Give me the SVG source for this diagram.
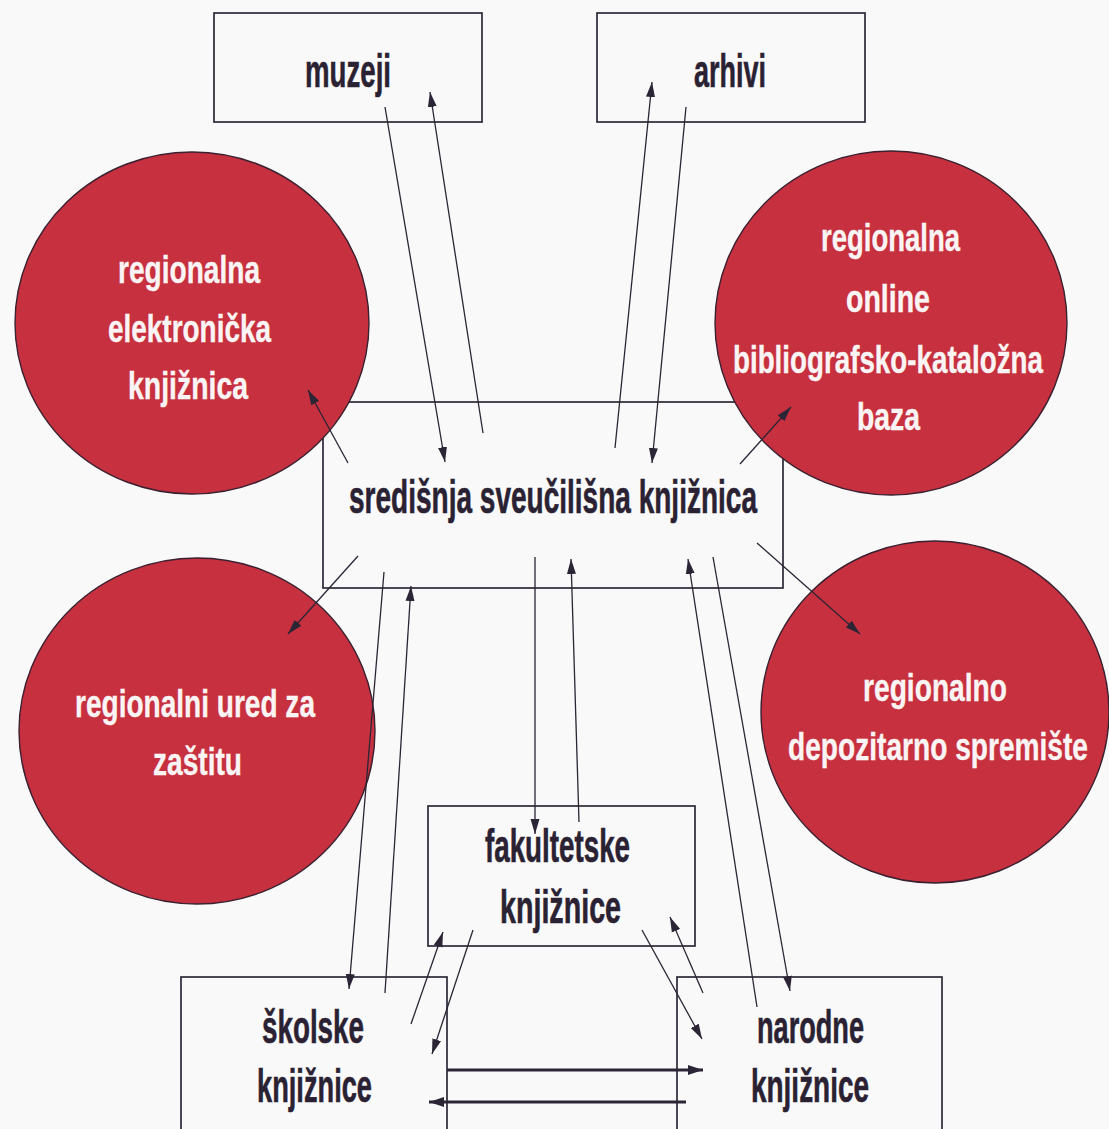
<svg xmlns="http://www.w3.org/2000/svg" width="1109" height="1129" viewBox="0 0 1109 1129">
<defs>
<style>
.box{fill:none;stroke:#2e2838;stroke-width:1.7}
.circ{fill:#c7303e;stroke:#3a2030;stroke-width:1.4}
.bt{font-family:"Liberation Sans Narrow","Liberation Sans",Arial,sans-serif;font-weight:bold;font-size:47px;fill:#2a2233;stroke:#2a2233;stroke-width:0.6}
.ct{font-family:"Liberation Sans Narrow","Liberation Sans",Arial,sans-serif;font-weight:bold;font-size:39px;fill:#fbf4f4;stroke:#fbf4f4;stroke-width:0.4}
.ln{fill:none;stroke:#2b2535;stroke-width:1.3;marker-end:url(#ah)}
.thick{fill:none;stroke:#2b2535;stroke-width:3.2;marker-end:url(#ah2)}
</style>
<marker id="ah" markerUnits="userSpaceOnUse" markerWidth="16" markerHeight="10" refX="15" refY="5" orient="auto">
<path d="M0,0.5 L15,5 L0,9.5 z" fill="#2b2535"/>
</marker>
<marker id="ah2" markerUnits="userSpaceOnUse" markerWidth="16" markerHeight="12" refX="15" refY="6" orient="auto">
<path d="M0,1 L15,6 L0,11 z" fill="#2b2535"/>
</marker>
</defs>
<rect x="0" y="0" width="1109" height="1129" fill="#f9f9f9"/>

<g id="node-muzeji">
<rect class="box" x="214" y="13" width="268" height="109"/>
<text class="bt" x="305" y="87" textLength="86" lengthAdjust="spacingAndGlyphs">muzeji</text>
</g>
<g id="node-arhivi">
<rect class="box" x="597" y="13" width="268" height="109"/>
<text class="bt" x="694" y="87" textLength="72" lengthAdjust="spacingAndGlyphs">arhivi</text>
</g>
<g id="node-sredisnja">
<rect class="box" x="323" y="402" width="460" height="186"/>
<text class="bt" x="349" y="513" textLength="408" lengthAdjust="spacingAndGlyphs">središnja sveučilišna knjižnica</text>
</g>
<g id="node-fakultetske">
<rect class="box" x="428" y="806" width="267" height="140"/>
<text class="bt" x="485" y="862" textLength="145" lengthAdjust="spacingAndGlyphs">fakultetske</text>
<text class="bt" x="500" y="923" textLength="121" lengthAdjust="spacingAndGlyphs">knjižnice</text>
</g>
<g id="node-skolske">
<rect class="box" x="181" y="977" width="266" height="170"/>
<text class="bt" x="262" y="1043" textLength="102" lengthAdjust="spacingAndGlyphs">školske</text>
<text class="bt" x="257" y="1102" textLength="115" lengthAdjust="spacingAndGlyphs">knjižnice</text>
</g>
<g id="node-narodne">
<rect class="box" x="677" y="977" width="265" height="170"/>
<text class="bt" x="757" y="1043" textLength="107" lengthAdjust="spacingAndGlyphs">narodne</text>
<text class="bt" x="751" y="1102" textLength="118" lengthAdjust="spacingAndGlyphs">knjižnice</text>
</g>

<g id="node-elektronicka">
<ellipse class="circ" cx="192" cy="323" rx="177" ry="171"/>
<text class="ct" x="118" y="283" textLength="142" lengthAdjust="spacingAndGlyphs">regionalna</text>
<text class="ct" x="108" y="342" textLength="163" lengthAdjust="spacingAndGlyphs">elektronička</text>
<text class="ct" x="128" y="399" textLength="120" lengthAdjust="spacingAndGlyphs">knjižnica</text>
</g>
<g id="node-online">
<ellipse class="circ" cx="891" cy="323" rx="176" ry="172"/>
<text class="ct" x="821" y="251" textLength="139" lengthAdjust="spacingAndGlyphs">regionalna</text>
<text class="ct" x="846" y="312" textLength="84" lengthAdjust="spacingAndGlyphs">online</text>
<text class="ct" x="733" y="373" textLength="310" lengthAdjust="spacingAndGlyphs">bibliografsko-kataložna</text>
<text class="ct" x="857" y="430" textLength="63" lengthAdjust="spacingAndGlyphs">baza</text>
</g>
<g id="node-ured">
<ellipse class="circ" cx="197" cy="731" rx="178" ry="173"/>
<text class="ct" x="75" y="717" textLength="240" lengthAdjust="spacingAndGlyphs">regionalni ured za</text>
<text class="ct" x="153" y="775" textLength="89" lengthAdjust="spacingAndGlyphs">zaštitu</text>
</g>
<g id="node-depozitarno">
<ellipse class="circ" cx="935" cy="712" rx="174" ry="171"/>
<text class="ct" x="863" y="701" textLength="144" lengthAdjust="spacingAndGlyphs">regionalno</text>
<text class="ct" x="788" y="760" textLength="300" lengthAdjust="spacingAndGlyphs">depozitarno spremište</text>
</g>

<g id="connectors">
<line class="ln" x1="385" y1="107" x2="445" y2="462"/>
<line class="ln" x1="483" y1="433" x2="430" y2="92"/>
<line class="ln" x1="615" y1="448" x2="652" y2="82"/>
<line class="ln" x1="686" y1="107" x2="652" y2="463"/>
<line class="ln" x1="348" y1="463" x2="308" y2="390"/>
<line class="ln" x1="740" y1="464" x2="791" y2="407"/>
<line class="ln" x1="358" y1="556" x2="288" y2="634"/>
<line class="ln" x1="757" y1="543" x2="860" y2="634"/>
<line class="ln" x1="384" y1="572" x2="349" y2="989"/>
<line class="ln" x1="385" y1="993" x2="411" y2="586"/>
<line class="ln" x1="535" y1="557" x2="535" y2="834"/>
<line class="ln" x1="579" y1="822" x2="571" y2="559"/>
<line class="ln" x1="757" y1="1007" x2="688" y2="559"/>
<line class="ln" x1="713" y1="557" x2="790" y2="991"/>
<line class="ln" x1="411" y1="1024" x2="443" y2="932"/>
<line class="ln" x1="473" y1="930" x2="432" y2="1054"/>
<line class="ln" x1="642" y1="930" x2="702" y2="1039"/>
<line class="ln" x1="703" y1="993" x2="670" y2="917"/>
<line class="thick" x1="447" y1="1070" x2="703" y2="1070"/>
<line class="thick" x1="686" y1="1102" x2="429" y2="1102"/>
</g>
</svg>
